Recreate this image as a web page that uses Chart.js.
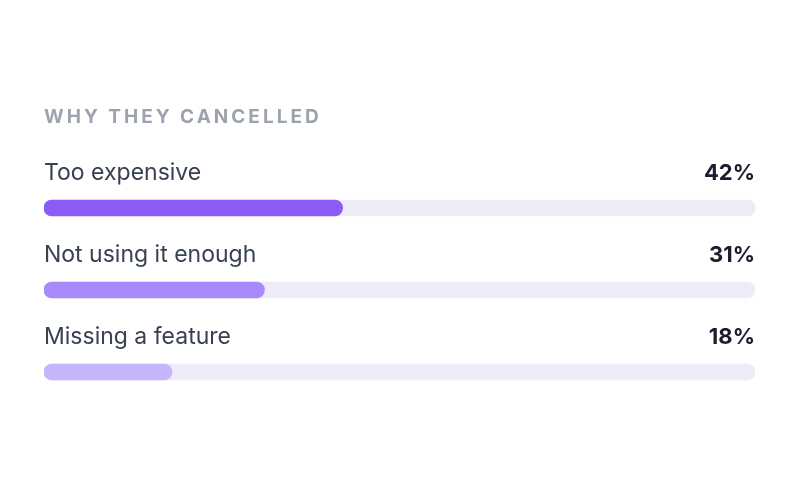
<!DOCTYPE html>
<html lang="en">
<head>
<meta charset="UTF-8" />
<title>Why they cancelled</title>
<script src="https://cdn.jsdelivr.net/npm/chart.js"></script>
<style>
  html, body { margin: 0; padding: 0; background: #ffffff; }
  .wrap { width: 800px; height: 480px; position: relative; }
</style>
</head>
<body>
<div class="wrap">
  <canvas id="cancelChart"></canvas>
</div>
<script>
  // data
  const reasons = ["Too expensive", "Not using it enough", "Missing a feature"];
  const shares = [42, 31, 18];
  const trackMax = [100, 100, 100];
  const barColors = ["#8b5cf6", "#a78bfa", "#c4b5fd"];
  const chartTitle = "WHY THEY CANCELLED";

  // labels above each bar, percentage on the right, title on top
  const rowText = {
    id: "rowText",
    afterDatasetsDraw(chart) {
      const { ctx, chartArea, scales } = chart;
      ctx.save();
      ctx.textBaseline = "middle";

      ctx.font = "bold 19px Inter, 'Noto Sans', sans-serif";
      ctx.fillStyle = "#9ca3af";
      ctx.textAlign = "left";
      ctx.letterSpacing = "3px";
      ctx.fillText(chartTitle, chartArea.left, 117);
      ctx.letterSpacing = "0px";

      reasons.forEach((r, i) => {
        const y = scales.y.getPixelForValue(i) - 35;
        ctx.font = "23px Inter, 'Noto Sans', sans-serif";
        ctx.fillStyle = "#374151";
        ctx.textAlign = "left";
        ctx.fillText(r, chartArea.left, y);

        ctx.font = "bold 22px Inter, 'Noto Sans', sans-serif";
        ctx.fillStyle = "#1e1b2e";
        ctx.textAlign = "right";
        ctx.fillText(shares[i] + "%", chartArea.right, y);
      });
      ctx.restore();
    }
  };

  new Chart(document.getElementById("cancelChart"), {
    type: "bar",
    data: {
      labels: reasons,
      datasets: [
        {
          label: "share",
          data: shares,
          backgroundColor: barColors,
          borderRadius: 8,
          borderSkipped: false,
          barThickness: 16,
          grouped: false,
          order: 1
        },
        {
          label: "track",
          data: trackMax,
          backgroundColor: "#efebf7",
          borderRadius: 8,
          borderSkipped: false,
          barThickness: 16,
          grouped: false,
          order: 2
        }
      ]
    },
    options: {
      indexAxis: "y",
      responsive: true,
      maintainAspectRatio: false,
      animation: false,
      layout: { padding: { left: 44, right: 45, top: 167, bottom: 67 } },
      plugins: {
        legend: { display: false },
        tooltip: { enabled: false }
      },
      scales: {
        x: { display: false, min: 0, max: 100 },
        y: { display: false }
      }
    },
    plugins: [rowText]
  });
</script>
</body>
</html>
